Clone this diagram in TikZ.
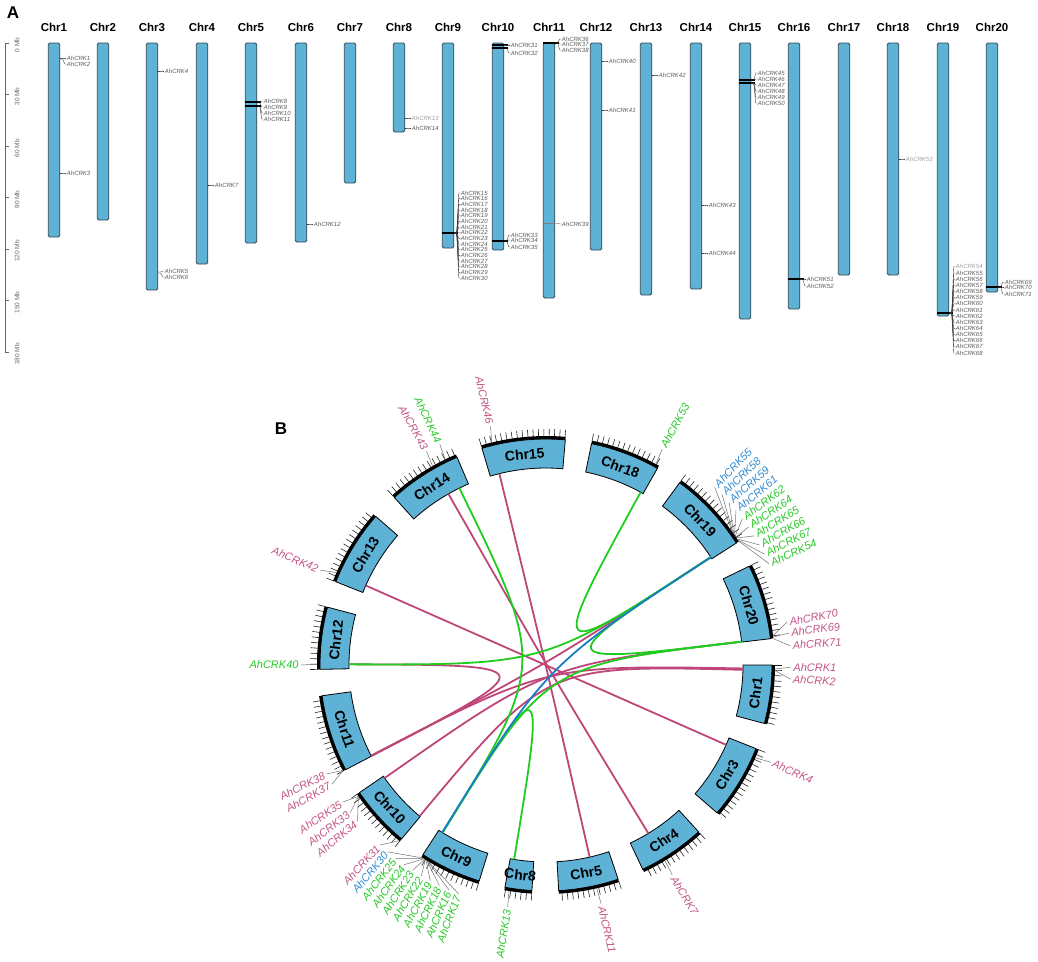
\documentclass[tikz,border=0pt]{standalone}
\usepackage{fontspec}
\setmainfont{Liberation Sans}
\usepackage{tikz}
\definecolor{barblue}{RGB}{94,178,214}
\definecolor{barline}{RGB}{50,70,80}
\definecolor{alabdark}{RGB}{90,90,90}
\definecolor{alablight}{RGB}{160,160,160}
\definecolor{lnkpink}{RGB}{190,70,120}
\definecolor{lnkgreen}{RGB}{30,205,30}
\definecolor{lnkblue}{RGB}{25,125,200}
\definecolor{labpink}{RGB}{195,85,135}
\definecolor{labgreen}{RGB}{40,200,40}
\definecolor{labblue}{RGB}{50,140,210}
\tikzset{
  bar/.style={draw=barline, fill=barblue, line width=0.8pt, rounded corners=1.5pt},
  bartitle/.style={font=\fontsize{11.5}{13}\selectfont\bfseries, inner sep=0pt},
  alab/.style={font=\fontsize{6}{7}\selectfont\itshape, anchor=west, inner sep=0.5pt},
  aline/.style={line width=0.35pt, black!80},
  genemark/.style={line width=1.3pt, black},
  scalelab/.style={font=\fontsize{6.5}{7}\selectfont, text=black!60, rotate=90, inner sep=0pt},
  chrbox/.style={draw=black, fill=barblue, line width=0.8pt},
  rim/.style={line width=3pt, black},
  tickline/.style={line width=0.6pt, black!85},
  chrlab/.style={font=\fontsize{14}{16}\selectfont\bfseries, inner sep=0pt},
  blab/.style={font=\fontsize{11}{13}\selectfont\itshape, inner sep=0.3pt},
  leader/.style={line width=0.5pt, black!55},
  lnk/.style={line width=1.8pt},
  panel/.style={font=\fontsize{17}{19}\selectfont\bfseries, inner sep=0pt}
}
\begin{document}
\begin{tikzpicture}[x=1pt,y=-1pt]
\useasboundingbox (0,0) rectangle (1038,961);

%%% A: chromosome map
\node[panel] (lab_A) at (13,13) {A};
\draw[aline, black!60] (9,43) -- (5,43) -- (5,352) -- (9,352);
\foreach \i/\v in {0/0,1/30,2/60,3/90,4/120,5/150,6/180}{
  \draw[aline, black!60] (5,43+51.5*\i) -- (9,43+51.5*\i);
  \node[scalelab] (s_\i) at (17,45+51.5*\i) {\v\ Mb};
}
\foreach \i/\x/\b in {1/54/237,2/103/220,3/152/290,4/202/264,5/251/243,6/301/242,7/350/183,8/399/132,9/448/248,10/498/250,11/549/298,12/596/250,13/646/295,14/696/289,15/745/319,16/794/309,17/844/275,18/893/275,19/943/316,20/992/292}{
  \node[bartitle] (t_\i) at (\x,27) {Chr\i};
  \draw[bar] (\x-5.75,43) rectangle (\x+5.75,\b);
}
\foreach \x/\y in {251/102,251/106,448/233,498/45,498/48,498/241,549/43,745/80,745/83,794/279,943/313,992/287}
  \draw[genemark] (\x-5.75,\y) -- (\x+9.5,\y);
\draw[aline, black!50] (543.25,223.5) -- (554.75,223.5);

% single genes and small groups
\foreach \x/\gy/\ly/\n/\c in {54/58/58/1/alabdark, 54/59/64/2/alabdark, 54/173/173/3/alabdark,
    152/71/71/4/alabdark, 152/272/271/5/alabdark, 152/273/277/6/alabdark, 202/185/185/7/alabdark,
    251/102/101/8/alabdark, 251/103/107/9/alabdark, 251/106/113/10/alabdark, 251/106/119/11/alabdark,
    301/224/224/12/alabdark, 399/118/118/13/alablight, 399/128/128/14/alabdark,
    498/45/45/31/alabdark, 498/48/53/32/alabdark, 498/241/235/33/alabdark, 498/241/240/34/alabdark, 498/241/247/35/alabdark,
    549/43/39/36/alabdark, 549/43/44/37/alabdark, 549/43/50/38/alabdark, 549/223.5/224/39/alabdark,
    596/61/61/40/alabdark, 596/110/110/41/alabdark, 646/75/75/42/alabdark,
    696/205/205/43/alabdark, 696/253/253/44/alabdark,
    794/279/279/51/alabdark, 794/279/286/52/alabdark, 893/159/159/53/alablight,
    943/313/266.8/54/alablight,
    992/287/282/69/alabdark, 992/287/287/70/alabdark, 992/287/294/71/alabdark}
  \draw[aline] (\x+5.75,\gy) -- (\x+8.75,\gy) -- (\x+10.75,\ly) -- (\x+12.25,\ly) node[alab, text=\c] (a_\n) {AhCRK\n};

% Chr9 cluster
\foreach \i in {0,...,15}{
  \pgfmathtruncatemacro\n{15+\i}
  \draw[aline] (453.75,233) -- (456.75,233) -- (458.75,193+5.67*\i) -- (460.25,193+5.67*\i) node[alab, text=alabdark] (a_\n) {AhCRK\n};
}
% Chr15 cluster
\foreach \i in {0,...,5}{
  \pgfmathtruncatemacro\n{45+\i}
  \pgfmathsetmacro\gy{\i<2 ? 80 : 83}
  \draw[aline] (750.75,\gy) -- (753.75,\gy) -- (755.75,73+6*\i) -- (757.25,73+6*\i) node[alab, text=alabdark] (a_\n) {AhCRK\n};
}
% Chr19 cluster
\foreach \i in {0,...,13}{
  \pgfmathtruncatemacro\n{55+\i}
  \draw[aline] (948.75,313) -- (951.75,313) -- (953.75,273+6.15*\i) -- (955.25,273+6.15*\i) node[alab, text=alabdark] (a_\n) {AhCRK\n};
}

%%% B: circle plot
\node[panel] (lab_B) at (281,429) {B};
\begin{scope}[shift={(546,665)}, y=1pt]
\coordinate (O) at (0,0);
\foreach \c/\s/\len in {Chr1/0/113, Chr3/-21.72/144, Chr4/-47.55/129, Chr5/-71.39/116, Chr8/-93.57/52,
    Chr9/-107.19/119, Chr10/-129.70/120, Chr11/-152.41/149, Chr12/-178.90/120, Chr13/-201.61/147,
    Chr14/-227.84/143, Chr15/-253.54/161, Chr18/-281.62/135, Chr19/-306.25/159, Chr20/-334.07/145}{
  \pgfmathsetmacro\e{\s-\len*0.1327}
  \pgfmathsetmacro\m{(\s+\e)/2}
  \pgfmathsetmacro\mm{mod(\m+720,360)}
  \pgfmathsetmacro\rot{\mm<180 ? \mm-90 : \mm+90}
  \draw[chrbox] (\s:197) arc[start angle=\s, end angle=\e, radius=197pt]
    -- (\e:226) arc[start angle=\e, end angle=\s, radius=226pt] -- cycle;
  \foreach \t in {0,10,...,\len}
    \draw[tickline] ({\s-\t*0.1327}:228) -- ({\s-\t*0.1327}:236);
  \draw[rim] (\s:227.5) arc[start angle=\s, end angle=\e, radius=227.5pt];
  \node[chrlab, rotate=\rot] (c_\c) at (\m:211.5) {\c};
}

% gene positions on the inner edge
\foreach \n/\a in {1/-1.0, 2/-1.4, 4/-23.9, 7/-58.7, 11/-77.2, 13/-99.3, 9/-121.7, 30/-121.8,
    31/-129.9, 35/-145.0, 37/-152.5, 38/-152.6, 40/-180.2, 42/-203.8, 43/-240.3, 44/-243.9,
    46/-256.3, 53/-298.7, 19/-326.8, 20/-353.2}
  \coordinate (g_\n) at (\a:197);

% links
\draw[lnk, lnkpink] (g_43) .. controls (O) .. (g_7);
\draw[lnk, lnkpink] (g_46) .. controls (O) .. (g_11);
\draw[lnk, lnkpink] (g_42) .. controls (O) .. (g_4);
\draw[lnk, lnkpink] (g_40) .. controls (O) .. (g_37);
\draw[lnk, lnkpink] (g_37) .. controls (O) .. (g_19);
\draw[lnk, lnkpink] (g_38) .. controls (O) .. (g_1);
\draw[lnk, lnkpink] (g_35) .. controls (O) .. (g_20);
\draw[lnk, lnkpink] (g_31) .. controls (O) .. (g_2);
\draw[lnk, lnkgreen] (g_44) .. controls (O) .. (g_9);
\draw[lnk, lnkgreen] (g_40) .. controls (O) .. (g_19);
\draw[lnk, lnkgreen] (g_53) .. controls (O) .. (g_19);
\draw[lnk, lnkgreen] (g_19) .. controls (O) .. (g_20);
\draw[lnk, lnkgreen] (g_20) .. controls (O) .. (g_9);
\draw[lnk, lnkgreen] (g_13) .. controls (O) .. (g_9);
\draw[lnk, lnkblue] (g_19) .. controls (O) .. (g_30);

% gene labels, right half
\foreach \g/\la/\n/\c in {-1.0/-0.5/1/labpink, -1.4/-3.3/2/labpink, -23.9/-23.4/4/labpink,
    -58.7/-59/7/labpink, -77.2/-77/11/labpink, 61.3/61.7/53/labgreen,
    7.4/10.1/70/labpink, 7.0/7.5/69/labpink, 6.6/4.5/71/labpink,
    35.5/46.5/55/labblue, 35.2/44.05/58/labblue, 34.9/41.6/59/labblue, 34.6/39.15/61/labblue,
    34.3/36.7/62/labgreen, 34.0/34.25/64/labgreen, 33.7/31.8/65/labgreen, 33.4/29.35/66/labgreen,
    33.1/26.9/67/labgreen, 32.8/24.45/54/labgreen}{
  \draw[leader] (\g:229) -- (\la:245);
  \node[blab, text=\c, anchor=west, rotate=\la] (b_\n) at (\la:247) {AhCRK\n};
}
% gene labels, left half
\foreach \g/\la/\n/\c in {-99.3/-99/13/labgreen,
    -129.9/-132.7/31/labpink, -122.6/-130.3/30/labblue, -122.4/-127.9/25/labgreen,
    -122.2/-125.4/24/labgreen, -122.0/-123.0/23/labgreen, -121.8/-120.6/22/labgreen,
    -121.6/-118.2/19/labgreen, -121.4/-115.8/18/labgreen, -121.2/-113.3/16/labgreen,
    -121.0/-110.9/17/labgreen,
    -145.0/-146.0/35/labpink, -145.0/-143.0/33/labpink, -145.0/-140.3/34/labpink,
    -152.6/-153.6/38/labpink, -152.5/-150.9/37/labpink, -180.2/-180/40/labgreen,
    -203.8/-202.8/42/labpink, -240.3/-240.8/43/labpink, -243.9/-244.3/44/labgreen,
    -256.3/-256.9/46/labpink}{
  \pgfmathsetmacro\rt{\la+180}
  \draw[leader] (\g:229) -- (\la:245);
  \node[blab, text=\c, anchor=east, rotate=\rt] (b_\n) at (\la:247) {AhCRK\n};
}
\end{scope}
\end{tikzpicture}
\end{document}
